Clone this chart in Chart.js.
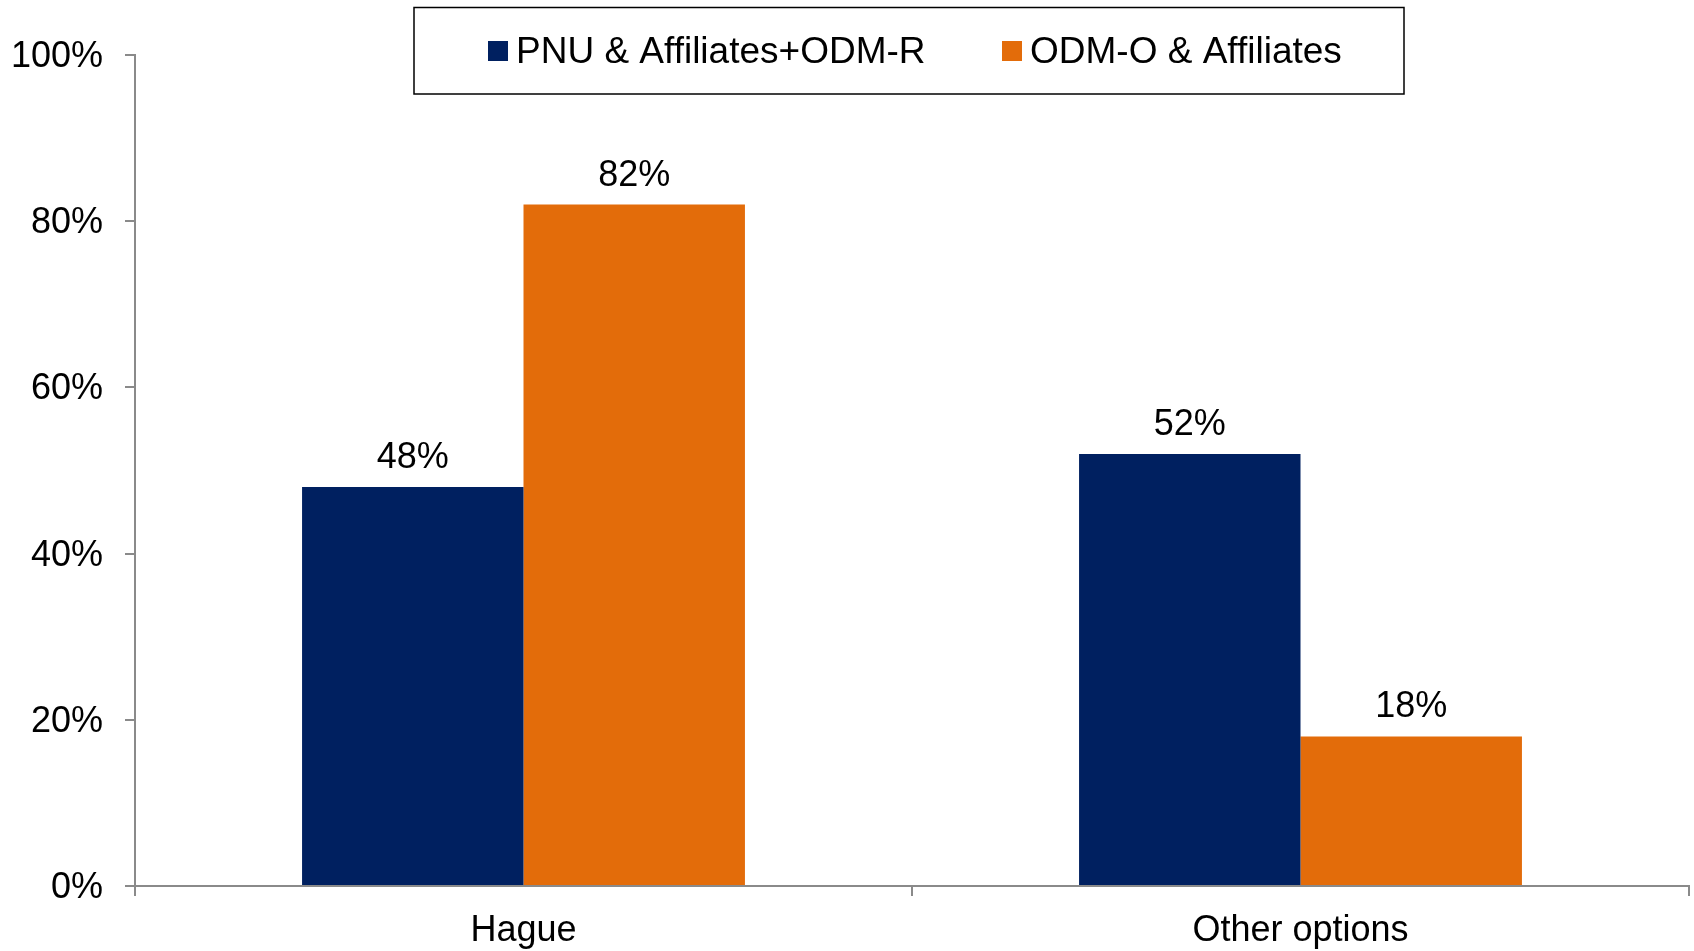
<!DOCTYPE html>
<html>
<head>
<meta charset="utf-8">
<script src="https://cdn.jsdelivr.net/npm/chart.js@4"></script>
<style>
html,body{margin:0;padding:0;background:#fff;}
#wrap{width:1694px;height:951px;position:relative;}
</style>
</head>
<body>
<div id="wrap"><canvas id="c" width="1694" height="951"></canvas></div>
<script>
const categories = ["Hague", "Other options"];
const seriesNames = ["PNU & Affiliates+ODM-R", "ODM-O & Affiliates"];
const seriesA = [48, 52];
const seriesB = [82, 18];
const colors = ["#002060", "#E36C0A"];
const yTicks = [0, 20, 40, 60, 80, 100];

const FONT = "'Liberation Sans', Arial, sans-serif";
const AXIS = "#8a8a8a";

const labelPlugin = {
  id: 'valueLabels',
  afterDatasetsDraw(chart) {
    const ctx = chart.ctx;
    ctx.save();
    ctx.font = "36px " + FONT;
    ctx.fillStyle = "#000";
    ctx.textAlign = "center";
    ctx.textBaseline = "alphabetic";
    chart.data.datasets.forEach((ds, di) => {
      const meta = chart.getDatasetMeta(di);
      meta.data.forEach((bar, i) => {
        ctx.fillText(ds.data[i] + "%", bar.x, bar.y - 19);
      });
    });
    ctx.restore();
  }
};

const legendPlugin = {
  id: 'boxLegend',
  afterDraw(chart) {
    const ctx = chart.ctx;
    ctx.save();
    ctx.fillStyle = "#fff";
    ctx.fillRect(414, 7.5, 990, 86.5);
    ctx.strokeStyle = "#000";
    ctx.lineWidth = 1.5;
    ctx.strokeRect(414, 7.5, 990, 86.5);
    const items = [{sx: 488, tx: 516}, {sx: 1002, tx: 1030}];
    ctx.font = "37px " + FONT;
    ctx.textBaseline = "middle";
    ctx.textAlign = "left";
    chart.data.datasets.forEach((ds, i) => {
      ctx.fillStyle = ds.backgroundColor;
      ctx.fillRect(items[i].sx, 41, 20, 20);
      ctx.fillStyle = "#000";
      ctx.fillText(ds.label, items[i].tx, 53);
    });
    ctx.restore();
  }
};

new Chart(document.getElementById('c'), {
  type: 'bar',
  data: {
    labels: categories,
    datasets: [
      {label: seriesNames[0], data: seriesA, backgroundColor: colors[0], borderWidth: 0},
      {label: seriesNames[1], data: seriesB, backgroundColor: colors[1], borderWidth: 0}
    ]
  },
  options: {
    responsive: false,
    animation: false,
    devicePixelRatio: 1,
    layout: {padding: {top: 55, right: 5, left: 0, bottom: 0}},
    plugins: {legend: {display: false}, tooltip: {enabled: false}},
    datasets: {bar: {categoryPercentage: 0.57, barPercentage: 1.0}},
    scales: {
      x: {
        grid: {display: true, drawOnChartArea: false, drawTicks: true, tickLength: 10, color: AXIS, lineWidth: 2, offset: true},
        border: {display: true, color: AXIS, width: 2},
        ticks: {font: {family: FONT, size: 36}, color: "#000", padding: 13},
        afterFit(s) { s.height = 65; }
      },
      y: {
        min: 0, max: 100,
        afterBuildTicks(s) { s.ticks = yTicks.map(v => ({value: v})); },
        grid: {display: true, drawOnChartArea: false, drawTicks: true, tickLength: 10, color: AXIS, lineWidth: 2},
        border: {display: true, color: AXIS, width: 2},
        ticks: {font: {family: FONT, size: 36}, color: "#000", padding: 22, labelOffset: 2, callback: v => v + "%"},
        afterFit(s) { s.width = 135; }
      }
    }
  },
  plugins: [labelPlugin, legendPlugin]
});
</script>
</body>
</html>
